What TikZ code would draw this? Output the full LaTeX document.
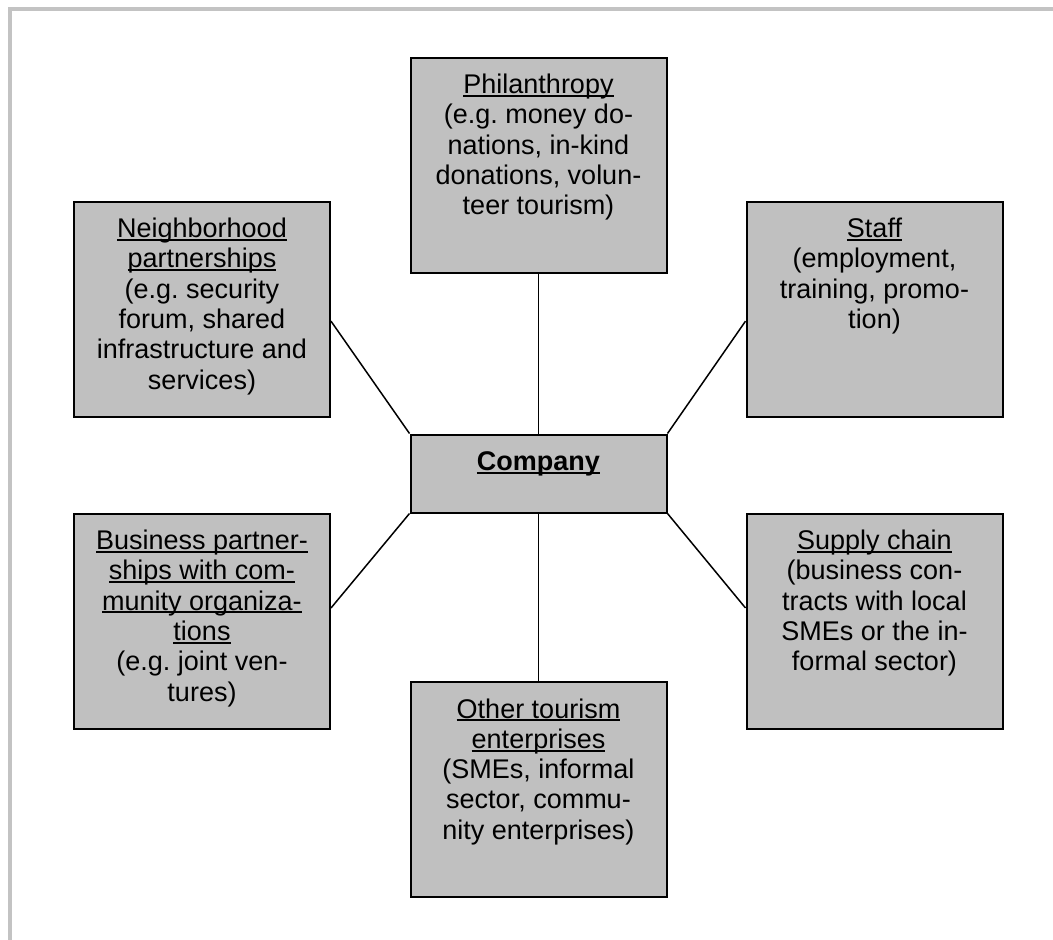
\documentclass[tikz,border=0pt]{standalone}
\usepackage{fontspec}
\setmainfont{Liberation Sans}
\usetikzlibrary{calc}
\definecolor{boxgray}{HTML}{C0C0C0}
\definecolor{framegray}{HTML}{C3C3C3}
\newcommand\myul[1]{\leavevmode\setbox0\hbox{#1}\rlap{\rule[-3.3pt]{\wd0}{2pt}}\box0}
\newcommand\bxtext[2]{\parbox[c][#1][t]{252pt}{\centering\frenchspacing\rule{0pt}{36pt}#2}}
\tikzset{
  topicbox/.style={draw=black, line width=2pt, fill=boxgray, inner sep=0pt,
    minimum width=256pt, minimum height=215pt, rectangle,
    font=\fontsize{27pt}{30.3pt}\selectfont},
  centerbox/.style={topicbox, minimum height=78pt},
  link/.style={draw=black, line width=1.5pt},
  frameline/.style={draw=framegray, line width=4.3pt}
}
\begin{document}
\begin{tikzpicture}[x=1pt, y=-1pt]
\useasboundingbox (0,0) rectangle (1053,940);
\fill[white] (0,0) rectangle (1053,940);
\draw[frameline] (10,940) -- (10,8.8) -- (1053,8.8);

\node[topicbox] (ph) at (538.5,165) {\bxtext{215pt}{\myul{Philanthropy}\\(e.g. money do-\\nations, in-kind\\donations, volun-\\teer tourism)}};
\node[topicbox] (nb) at (202,309) {\bxtext{215pt}{\myul{Neighborhood}\\\myul{partnerships}\\(e.g. security\\forum, shared\\infrastructure and\\services)}};
\node[topicbox] (st) at (874.5,309) {\bxtext{215pt}{\myul{Staff}\\(employment,\\training, promo-\\tion)}};
\node[centerbox] (co) at (538.5,473.5) {\bxtext{78pt}{\textbf{\myul{Company}}}};
\node[topicbox] (bu) at (202,621) {\bxtext{215pt}{\myul{Business partner-}\\\myul{ships with com-}\\\myul{munity organiza-}\\\myul{tions}\\(e.g. joint ven-\\tures)}};
\node[topicbox] (su) at (874.5,621) {\bxtext{215pt}{\myul{Supply chain}\\(business con-\\tracts with local\\SMEs or the in-\\formal sector)}};
\node[topicbox] (ot) at (538.5,789.5) {\bxtext{215pt}{\myul{Other tourism}\\\myul{enterprises}\\(SMEs, informal\\sector, commu-\\nity enterprises)}};

\coordinate (nbp) at ($(nb.north east)!0.556!(nb.south east)$);
\coordinate (stp) at ($(st.north west)!0.556!(st.south west)$);
\coordinate (bup) at ($(bu.north east)!0.44!(bu.south east)$);
\coordinate (sup) at ($(su.north west)!0.44!(su.south west)$);

\draw[link] (ph.south) -- (co.north);
\draw[link] (co.south) -- (ot.north);
\draw[link] (nbp) -- (co.north west);
\draw[link] (stp) -- (co.north east);
\draw[link] (bup) -- (co.south west);
\draw[link] (sup) -- (co.south east);
\end{tikzpicture}
\end{document}
